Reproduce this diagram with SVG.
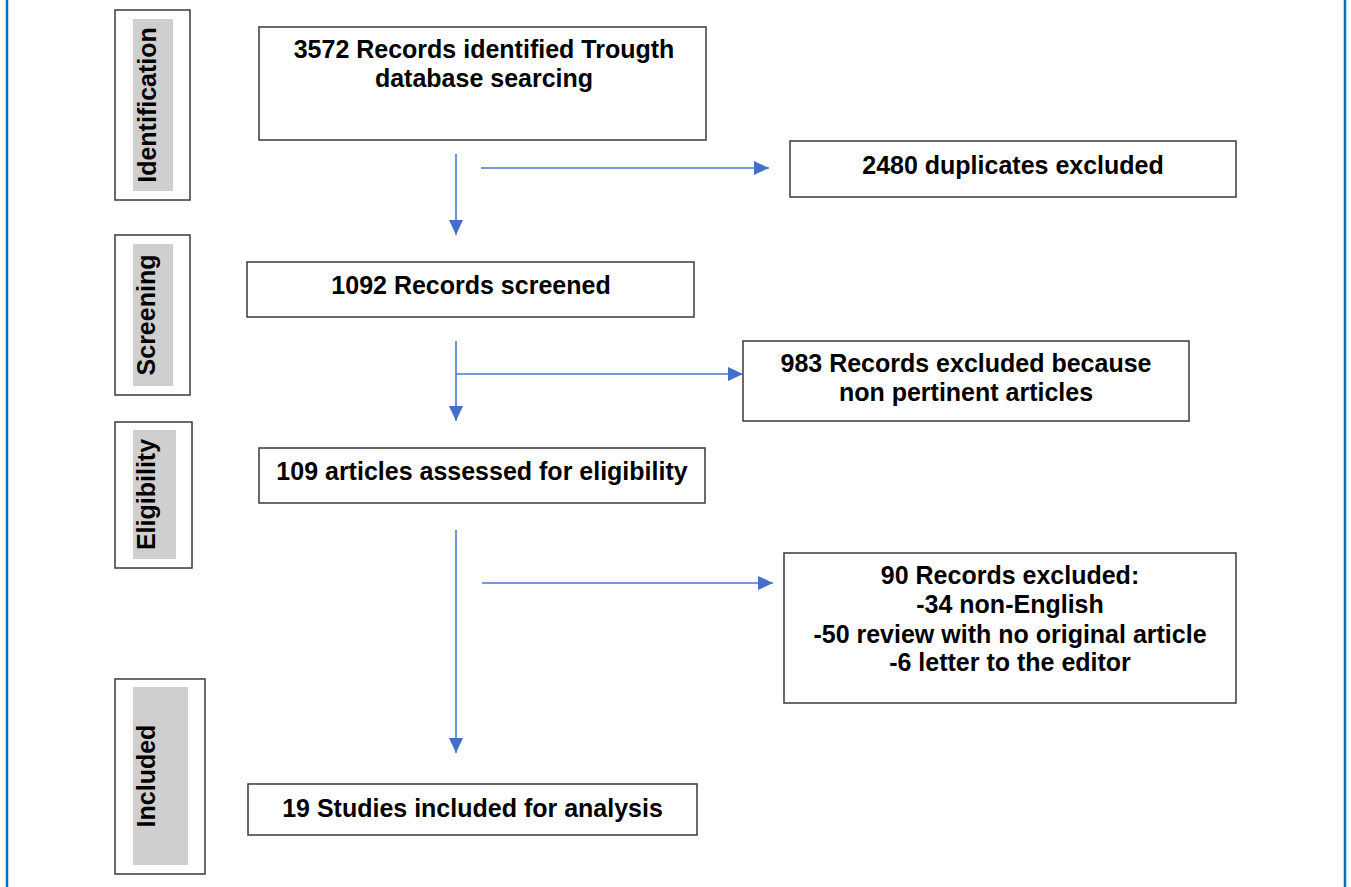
<svg xmlns="http://www.w3.org/2000/svg" width="1351" height="887" viewBox="0 0 1351 887">
  <style>
    .frame { stroke: #0070c0; stroke-width: 2.5; }
    .box { fill: #ffffff; stroke: #3a3a3a; stroke-width: 1.5; }
    .band { fill: #d0cfcf; }
    .lbl { font-family: "Liberation Sans", Arial, sans-serif; font-weight: bold; font-size: 25px; fill: #000000; text-anchor: middle; }
    .flow { fill: none; stroke: #4a78c8; stroke-width: 1.6; }
  </style>
  <defs>
    <marker id="head" viewBox="0 0 15 14" refX="15" refY="7" markerWidth="15" markerHeight="14" markerUnits="userSpaceOnUse" orient="auto">
      <path d="M0,0 L15,7 L0,14 Z" fill="#4270c8"/>
    </marker>
  </defs>

  <rect width="1351" height="887" fill="#ffffff"/>
  <line class="frame" x1="7" y1="0" x2="7" y2="887"/>
  <line class="frame" x1="1345" y1="0" x2="1345" y2="887"/>

  <!-- phase labels -->
  <g id="phase-identification">
    <rect class="box" x="115" y="10" width="75" height="190"/>
    <rect class="band" x="133" y="19" width="40" height="172"/>
    <text class="lbl" transform="translate(156,105) rotate(-90)">Identification</text>
  </g>
  <g id="phase-screening">
    <rect class="box" x="115" y="235" width="75" height="160"/>
    <rect class="band" x="133" y="244" width="40" height="142"/>
    <text class="lbl" transform="translate(155,315) rotate(-90)">Screening</text>
  </g>
  <g id="phase-eligibility">
    <rect class="box" x="115" y="422" width="77" height="146"/>
    <rect class="band" x="133" y="430" width="43" height="129"/>
    <text class="lbl" transform="translate(155,494.5) rotate(-90)">Eligibility</text>
  </g>
  <g id="phase-included">
    <rect class="box" x="115" y="679" width="90" height="195"/>
    <rect class="band" x="133" y="687" width="55" height="178"/>
    <text class="lbl" transform="translate(155,776) rotate(-90)">Included</text>
  </g>

  <!-- flow boxes -->
  <g id="n-identified">
    <rect class="box" x="259" y="27" width="447" height="113"/>
    <text class="lbl" x="484" y="58">3572 Records identified Trougth</text>
    <text class="lbl" x="484" y="87">database searcing</text>
  </g>
  <g id="n-duplicates">
    <rect class="box" x="790" y="141" width="446" height="56"/>
    <text class="lbl" x="1013" y="174">2480 duplicates excluded</text>
  </g>
  <g id="n-screened">
    <rect class="box" x="247" y="262" width="447" height="55"/>
    <text class="lbl" x="471" y="294">1092 Records screened</text>
  </g>
  <g id="n-excluded-pertinence">
    <rect class="box" x="743" y="341" width="446" height="80"/>
    <text class="lbl" x="966" y="372">983 Records excluded because</text>
    <text class="lbl" x="966" y="401">non pertinent articles</text>
  </g>
  <g id="n-eligibility">
    <rect class="box" x="259" y="448" width="446" height="55"/>
    <text class="lbl" x="482" y="480">109 articles assessed for eligibility</text>
  </g>
  <g id="n-excluded-records">
    <rect class="box" x="784" y="553" width="452" height="150"/>
    <text class="lbl" x="1010" y="584">90 Records excluded:</text>
    <text class="lbl" x="1010" y="613">-34 non-English</text>
    <text class="lbl" x="1010" y="642.5">-50 review with no original article</text>
    <text class="lbl" x="1010" y="671">-6 letter to the editor</text>
  </g>
  <g id="n-included">
    <rect class="box" x="248" y="784" width="449" height="51"/>
    <text class="lbl" x="472.5" y="817">19 Studies included for analysis</text>
  </g>

  <!-- connectors -->
  <g id="connectors">
    <path class="flow" d="M456,154 V235" marker-end="url(#head)"/>
    <path class="flow" d="M481,168 H769" marker-end="url(#head)"/>
    <path class="flow" d="M456,341 V421" marker-end="url(#head)"/>
    <path class="flow" d="M456,374 H743" marker-end="url(#head)"/>
    <path class="flow" d="M456,530 V753" marker-end="url(#head)"/>
    <path class="flow" d="M482,583 H773" marker-end="url(#head)"/>
  </g>
</svg>
